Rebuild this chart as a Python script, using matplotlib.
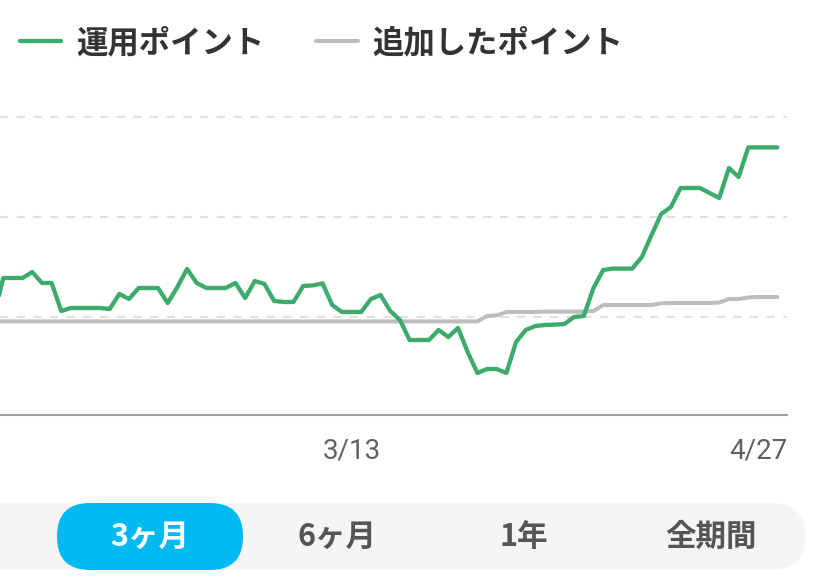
import matplotlib
matplotlib.use("Agg")
import matplotlib.pyplot as plt
import matplotlib.dates as mdates
from matplotlib.patches import FancyBboxPatch
import pandas as pd

plt.rcParams['font.family'] = ['Noto Sans CJK JP', 'DejaVu Sans']

# daily values, 2023-02-04 .. 2023-04-26
dates = pd.date_range('2023-02-04', '2023-04-26', freq='D')
unyou = [9995,
         10195, 10195, 10195, 10225, 10170, 10170, 10030, 10045, 10045, 10045,
         10045, 10040, 10115, 10090, 10145, 10145, 10145, 10070, 10150, 10240,
         10170, 10145, 10145, 10145, 10170, 10095, 10180, 10165, 10080, 10075,
         10075, 10155, 10158, 10168, 10060, 10025, 10025, 10025, 10090, 10110,
         10030, 9985, 9885, 9885, 9885, 9935, 9900, 9945, 9825, 9720,
         9740, 9740, 9720, 9875, 9935, 9955, 9960, 9962, 9965, 10000,
         10005, 10145, 10235, 10242, 10242, 10242, 10300, 10410, 10515, 10550,
         10645, 10645, 10645, 10620, 10595, 10745, 10700, 10848, 10848, 10848,
         10848]
tsuika = [9978] * 51 + [10005, 10008, 10025, 10025, 10025, 10025, 10027, 10027,
                         10027, 10027, 10027, 10030, 10060, 10060, 10060, 10060,
                         10060, 10060, 10068, 10070, 10070, 10070, 10070, 10070,
                         10072, 10090, 10090, 10098, 10100, 10100, 10100]

legend_labels = ['運用ポイント', '追加したポイント']
tick_dates = ['2023-03-13', '2023-04-27']
tick_labels = ['3/13', '4/27']
periods = ['3ヶ月', '6ヶ月', '1年', '全期間']

green = '#3dab6e'
grey = '#bdbdbd'

fig = plt.figure(figsize=(8.39, 5.85), dpi=100)
W, H = 839, 585

ax = fig.add_axes([0, 170 / H, 787 / W, 315 / H])
ax.plot(dates, unyou, color=green, lw=3.1, solid_joinstyle='round',
        solid_capstyle='round', label=legend_labels[0], zorder=3)
ax.plot(dates, tsuika, color=grey, lw=2.9, solid_joinstyle='round',
        solid_capstyle='round', label=legend_labels[1], zorder=2)

ax.set_xlim(pd.Timestamp('2023-02-05') - pd.Timedelta(hours=8),
            pd.Timestamp('2023-04-27'))
ax.set_ylim(9510, 11085)
ax.set_yticks([10000, 10500, 11000])
ax.yaxis.grid(True, color='#e0e0e0', linewidth=1.5, linestyle=(0, (4, 4)))
ax.tick_params(axis='y', left=False, labelleft=False)

ax.set_xticks([mdates.date2num(pd.Timestamp(d)) for d in tick_dates])
ax.set_xticklabels(tick_labels, family='Roboto', fontsize=20, color='#616161')
ax.tick_params(axis='x', length=0, pad=16)
ax.get_xticklabels()[-1].set_ha('right')

for s in ['top', 'right', 'left']:
    ax.spines[s].set_visible(False)
ax.spines['bottom'].set_color('#9e9e9e')
ax.spines['bottom'].set_linewidth(1.5)
ax.set_facecolor('none')

fig.legend(loc='center left', bbox_to_anchor=(20 / W, 1 - 43 / H), ncol=2,
           frameon=False, handlelength=1.32, handletextpad=0.47,
           columnspacing=1.65, borderaxespad=0, borderpad=0,
           prop={'size': 22.6, 'weight': 'bold'}, labelcolor='#333333')

# period selector
ui = fig.add_axes([0, 0, 1, 1], zorder=-1)
ui.set_xlim(0, W)
ui.set_ylim(H, 0)
ui.axis('off')
ui.add_patch(FancyBboxPatch((-60, 503), 865, 67,
                            boxstyle='round,pad=0,rounding_size=33',
                            fc='#f5f5f5', ec='none'))
ui.add_patch(FancyBboxPatch((57, 503), 186, 67,
                            boxstyle='round,pad=0,rounding_size=33',
                            fc='#00b9f1', ec='none'))
centers = [150, 337, 524, 711]
for i, (p, cx) in enumerate(zip(periods, centers)):
    ui.text(cx, 537, p, ha='center', va='center', fontsize=22,
            fontweight='bold', color='white' if i == 0 else '#555555')

fig.savefig('out.png', dpi=100)
